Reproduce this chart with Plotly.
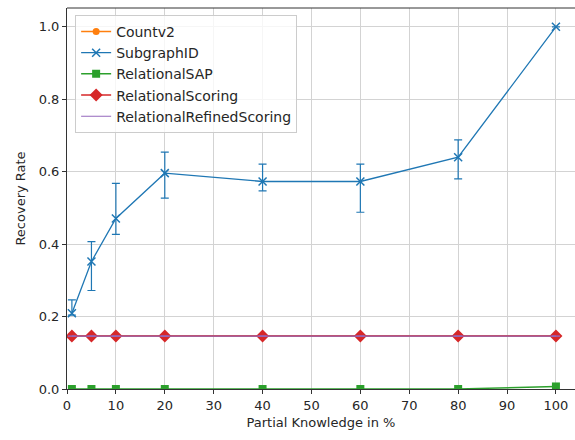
import plotly.graph_objects as go

# Partial knowledge levels (%) and recovery rates per attack
knowledge = [1, 5, 10, 20, 40, 60, 80, 100]

countv2 = [0.146, 0.146, 0.146, 0.146, 0.146, 0.146, 0.146, 0.146]

subgraph_id = [0.209, 0.352, 0.471, 0.596, 0.573, 0.573, 0.640, 1.0]
subgraph_id_max = [0.246, 0.407, 0.568, 0.654, 0.621, 0.621, 0.688, 1.0]
subgraph_id_min = [0.204, 0.272, 0.427, 0.527, 0.547, 0.488, 0.580, 1.0]

relational_sap = [0.0, 0.0, 0.0, 0.0, 0.0, 0.0, 0.0, 0.007]
relational_scoring = [0.146, 0.146, 0.146, 0.146, 0.146, 0.146, 0.146, 0.146]
relational_refined_scoring = [0.146, 0.146, 0.146, 0.146, 0.146, 0.146, 0.146, 0.146]

x_ticks = [0, 10, 20, 30, 40, 50, 60, 70, 80, 90, 100]
y_ticks = [0.0, 0.2, 0.4, 0.6, 0.8, 1.0]

FONT = "DejaVu Sans"
BLUE, ORANGE, GREEN, RED, PURPLE = "#1f77b4", "#ff7f0e", "#2ca02c", "#d62728", "#9467bd"

err_plus = [hi - v for hi, v in zip(subgraph_id_max, subgraph_id)]
err_minus = [v - lo for lo, v in zip(subgraph_id_min, subgraph_id)]

fig = go.Figure()
fig.add_trace(go.Scatter(
    x=knowledge, y=countv2, name="Countv2", mode="lines+markers",
    line=dict(color=ORANGE, width=1.5),
    marker=dict(symbol="circle", size=7, color=ORANGE),
))
fig.add_trace(go.Scatter(
    x=knowledge, y=subgraph_id, name="SubgraphID", mode="lines+markers",
    line=dict(color=BLUE, width=1.3),
    marker=dict(symbol="x-thin", size=8, color=BLUE, line=dict(color=BLUE, width=1.5)),
    error_y=dict(type="data", symmetric=False, array=err_plus, arrayminus=err_minus,
                 color=BLUE, thickness=1.2, width=4),
))
fig.add_trace(go.Scatter(
    x=knowledge, y=relational_sap, name="RelationalSAP", mode="lines+markers",
    line=dict(color=GREEN, width=1.5),
    marker=dict(symbol="square", size=8, color=GREEN),
))
fig.add_trace(go.Scatter(
    x=knowledge, y=relational_scoring, name="RelationalScoring", mode="lines+markers",
    line=dict(color=RED, width=1.5),
    marker=dict(symbol="diamond", size=10, color=RED),
))
fig.add_trace(go.Scatter(
    x=knowledge, y=relational_refined_scoring, name="RelationalRefinedScoring", mode="lines",
    line=dict(color=PURPLE, width=1.2),
    error_y=dict(type="constant", value=0, color=PURPLE, thickness=1, width=4),
))

axis_common = dict(
    showgrid=True, gridcolor="#d3d3d3", gridwidth=1,
    showline=True, linecolor="#333333", linewidth=1,
    ticks="outside", ticklen=4, tickcolor="#333333", tickwidth=1,
    zeroline=False,
    tickfont=dict(family=FONT, size=13, color="#262626"),
    title_font=dict(family=FONT, size=13, color="#262626"),
)

fig.update_layout(
    width=575, height=440,
    margin=dict(l=67, r=0, t=8, b=51),
    paper_bgcolor="white", plot_bgcolor="white",
    font=dict(family=FONT, size=13, color="#262626"),
    xaxis=dict(range=[0, 103.9], tickvals=x_ticks, title=dict(text="Partial Knowledge in %", standoff=6),
               **axis_common),
    yaxis=dict(range=[0, 1.052], tickvals=y_ticks, tickformat=".1f",
               title=dict(text="Recovery Rate", standoff=10), **axis_common),
    legend=dict(
        x=0.016, y=0.982, xanchor="left", yanchor="top",
        bgcolor="rgba(255,255,255,0.8)", bordercolor="#cccccc", borderwidth=1,
        font=dict(family=FONT, size=14, color="#262626"),
        tracegroupgap=0, itemwidth=30,
    ),
    showlegend=True,
)

# top spine
fig.add_shape(type="line", xref="paper", yref="paper", x0=0, x1=1, y0=1, y1=1,
              line=dict(color="#333333", width=1))

fig.write_html("out.html")
